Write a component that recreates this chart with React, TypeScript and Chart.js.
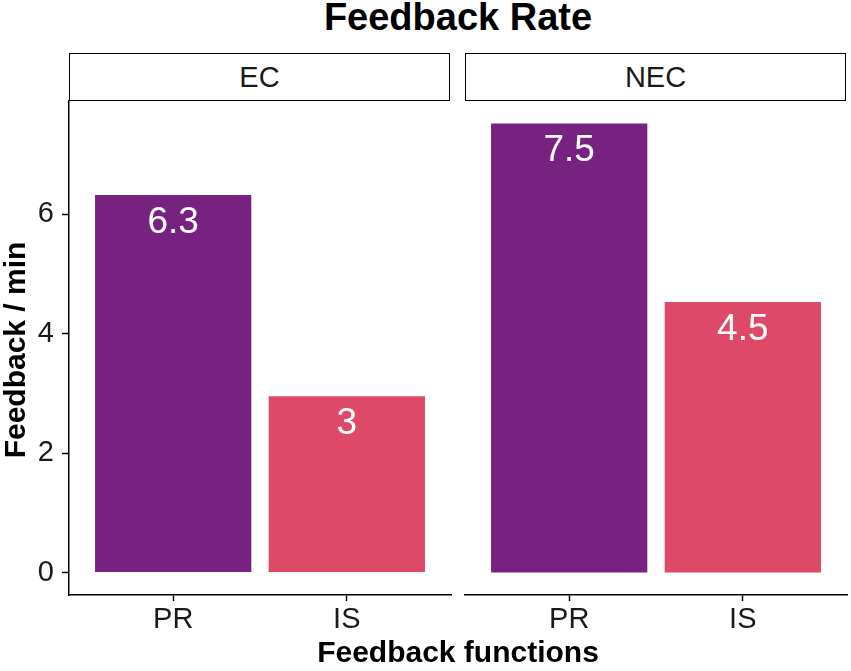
import React, { useEffect, useRef } from "react";
import { Chart, registerables } from "chart.js";

Chart.register(...registerables);

const chartTitle = "Feedback Rate";
const xTitle = "Feedback functions";
const yTitle = "Feedback / min";
const facets = ["EC", "NEC"];
const categories = ["PR", "IS"];
const ecValues = [6.32, 2.95];
const necValues = [7.52, 4.53];
const ecLabels = ["6.3", "3"];
const necLabels = ["7.5", "4.5"];
const barColors = ["#772281", "#DE4968"];
const yTicks = [0, 2, 4, 6];

const FONT = "'Liberation Sans', Arial, Helvetica, sans-serif";
const W = 851;
const H = 671;

const allValues = [...ecValues, ...necValues];
const maxV = Math.max(...allValues);
const yMin = -0.05 * maxV;
const yMax = 1.05 * maxV;

type PanelProps = {
  values: number[];
  labels: string[];
  padLeft: number;
  padRight: number;
  showY: boolean;
};

function Panel({ values, labels, padLeft, padRight, showY }: PanelProps) {
  const ref = useRef<HTMLCanvasElement | null>(null);
  useEffect(() => {
    if (!ref.current) return;
    const labelPlugin = {
      id: "barLabels",
      afterDatasetsDraw(chart: any) {
        const ctx = chart.ctx;
        const meta = chart.getDatasetMeta(0);
        ctx.save();
        ctx.fillStyle = "#ffffff";
        ctx.font = `37px ${FONT}`;
        ctx.textAlign = "center";
        ctx.textBaseline = "alphabetic";
        meta.data.forEach((el: any, i: number) => {
          ctx.fillText(labels[i], el.x, el.y + 38);
        });
        ctx.restore();
      },
    };
    const chart = new Chart(ref.current, {
      type: "bar",
      data: {
        datasets: [
          {
            data: values.map((v, i) => ({ x: i + 1, y: v })),
            backgroundColor: barColors,
            borderWidth: 0,
            barPercentage: 0.9,
            categoryPercentage: 1,
          },
        ],
      },
      options: {
        animation: false,
        responsive: false,
        events: [],
        layout: { padding: { left: padLeft, right: padRight, top: 101, bottom: 0 } },
        plugins: { legend: { display: false }, tooltip: { enabled: false }, title: { display: false } },
        scales: {
          x: {
            type: "linear",
            offset: false,
            min: 0.4,
            max: categories.length + 0.6,
            afterBuildTicks: (scale: any) => {
              scale.ticks = categories.map((_, i) => ({ value: i + 1 }));
            },
            afterFit: (scale: any) => {
              scale.height = 76;
            },
            ticks: {
              autoSkip: false,
              maxRotation: 0,
              padding: 4,
              color: "#1a1a1a",
              font: { family: FONT, size: 29, lineHeight: 1 },
              callback: (v: any) => categories[Number(v) - 1] ?? "",
            },
            grid: {
              offset: false,
              drawOnChartArea: false,
              drawTicks: true,
              tickLength: 6,
              tickColor: "#000000",
              tickWidth: 1.5,
            },
            border: { display: true, color: "#000000", width: 1.5 },
          },
          y: {
            type: "linear",
            display: showY,
            min: yMin,
            max: yMax,
            afterBuildTicks: (scale: any) => {
              scale.ticks = yTicks.map((v) => ({ value: v }));
            },
            afterFit: (scale: any) => {
              scale.width = showY ? 69 : 0;
            },
            ticks: {
              padding: 8,
              color: "#1a1a1a",
              font: { family: FONT, size: 29, lineHeight: 1 },
              callback: (v: any) => String(v),
            },
            grid: {
              drawOnChartArea: false,
              drawTicks: true,
              tickLength: 7,
              tickColor: "#000000",
              tickWidth: 1.5,
            },
            border: { display: true, color: "#000000", width: 1.5 },
          },
        },
      } as any,
      plugins: [labelPlugin],
    });
    return () => chart.destroy();
  }, []);
  return (
    <canvas
      ref={ref}
      width={W}
      height={H}
      style={{ position: "absolute", left: 0, top: 0, width: W, height: H }}
    />
  );
}

const stripStyle = (left: number): React.CSSProperties => ({
  position: "absolute",
  left,
  top: 53,
  width: 381,
  height: 48,
  boxSizing: "border-box",
  border: "1.5px solid #000",
  background: "#fff",
  display: "flex",
  alignItems: "center",
  justifyContent: "center",
  fontFamily: FONT,
  fontSize: 29,
  lineHeight: 1,
  color: "#1a1a1a",
});

export default function App() {
  return (
    <div
      style={{
        position: "absolute",
        left: 0,
        top: 0,
        width: W,
        height: H,
        background: "#fff",
        overflow: "hidden",
      }}
    >
      <div
        style={{
          position: "absolute",
          left: 69,
          top: -2,
          width: 778,
          textAlign: "center",
          fontFamily: FONT,
          fontWeight: "bold",
          fontSize: 38,
          lineHeight: 1,
          color: "#000",
        }}
      >
        {chartTitle}
      </div>
      <div style={stripStyle(69)}>{facets[0]}</div>
      <div style={stripStyle(465)}>{facets[1]}</div>
      <Panel values={ecValues} labels={ecLabels} padLeft={0} padRight={W - 451} showY={true} />
      <Panel values={necValues} labels={necLabels} padLeft={465} padRight={W - 847} showY={false} />
      <div
        style={{
          position: "absolute",
          left: 69,
          top: 637,
          width: 778,
          textAlign: "center",
          fontFamily: FONT,
          fontWeight: "bold",
          fontSize: 30,
          lineHeight: 1,
          color: "#000",
        }}
      >
        {xTitle}
      </div>
      <div
        style={{
          position: "absolute",
          left: 14.6 - 200,
          top: 349.5 - 15,
          width: 400,
          height: 30,
          textAlign: "center",
          fontFamily: FONT,
          fontWeight: "bold",
          fontSize: 30,
          lineHeight: "30px",
          color: "#000",
          transform: "rotate(-90deg)",
          transformOrigin: "50% 50%",
        }}
      >
        {yTitle}
      </div>
    </div>
  );
}
